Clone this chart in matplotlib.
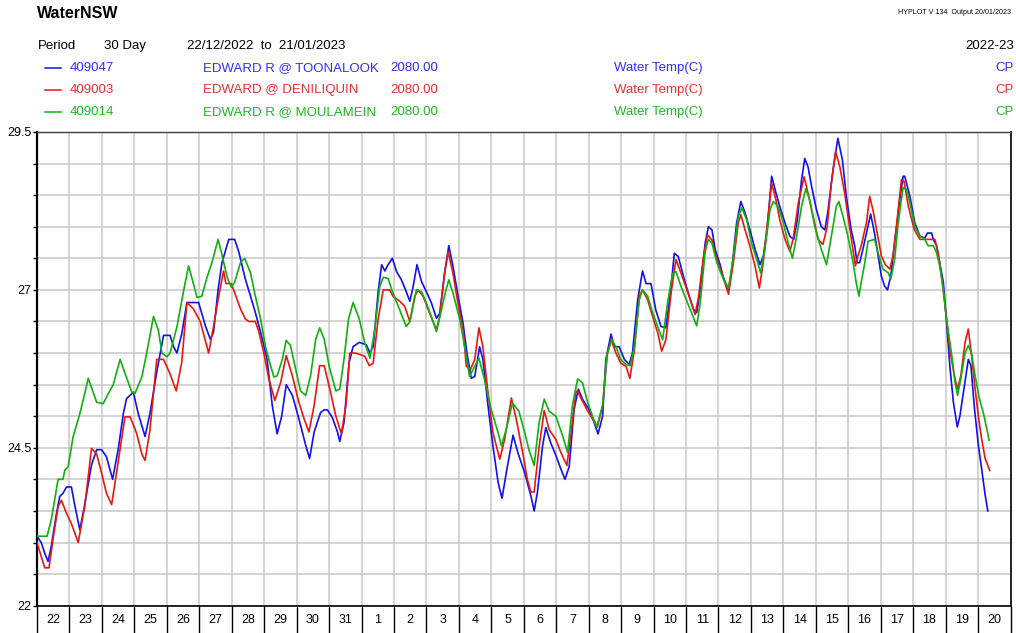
import numpy as np
import matplotlib.pyplot as plt
from matplotlib.ticker import MultipleLocator, FixedLocator, NullFormatter

plt.rcParams['font.family'] = ['Liberation Sans', 'DejaVu Sans']

# days since 22/12/2022 00:00, water temp (C)
blue = [(0, 23.1), (0.13, 23.0), (0.24, 22.83), (0.34, 22.7), (0.44, 22.94), (0.6, 23.46), (0.7, 23.73),
        (0.8, 23.78), (0.91, 23.88), (1.06, 23.88), (1.16, 23.6), (1.32, 23.2), (1.47, 23.6), (1.68, 24.23),
        (1.84, 24.47), (1.99, 24.47), (2.14, 24.36), (2.33, 24.0), (2.51, 24.5), (2.66, 25.04), (2.76, 25.28),
        (2.97, 25.38), (3.12, 25.04), (3.33, 24.68), (3.48, 25.04), (3.69, 25.7), (3.9, 26.28), (4.1, 26.28),
        (4.21, 26.1), (4.31, 26.0), (4.46, 26.3), (4.62, 26.8), (4.98, 26.8), (5.19, 26.43), (5.34, 26.22),
        (5.44, 26.33), (5.58, 27.0), (5.7, 27.43), (5.91, 27.8), (6.09, 27.8), (6.22, 27.6), (6.42, 27.17),
        (6.58, 26.9), (6.73, 26.64), (6.89, 26.33), (7.09, 25.9), (7.25, 25.17), (7.4, 24.72), (7.54, 25.0),
        (7.68, 25.5), (7.87, 25.33), (8.07, 24.96), (8.28, 24.54), (8.4, 24.33), (8.54, 24.75), (8.74, 25.06),
        (8.85, 25.1), (8.95, 25.1), (9.1, 24.98), (9.26, 24.75), (9.33, 24.6), (9.46, 24.9), (9.62, 25.85),
        (9.74, 26.1), (9.93, 26.17), (10.15, 26.13), (10.26, 26.0), (10.36, 26.1), (10.51, 26.95), (10.62, 27.4),
        (10.72, 27.3), (10.82, 27.4), (10.95, 27.5), (11.08, 27.29), (11.23, 27.16), (11.38, 26.97),
        (11.49, 26.82), (11.59, 27.05), (11.71, 27.4), (11.85, 27.13), (12.0, 26.97), (12.15, 26.8),
        (12.31, 26.55), (12.41, 26.63), (12.56, 27.26), (12.69, 27.7), (12.82, 27.37), (12.97, 26.92),
        (13.13, 26.47), (13.25, 26.0), (13.38, 25.6), (13.49, 25.63), (13.64, 26.1), (13.74, 25.9),
        (13.9, 25.16), (14.05, 24.53), (14.21, 23.95), (14.33, 23.7), (14.46, 24.1), (14.67, 24.7),
        (14.82, 24.42), (15.03, 24.1), (15.11, 23.95), (15.22, 23.74), (15.32, 23.5), (15.42, 23.79),
        (15.58, 24.53), (15.68, 24.82), (15.83, 24.58), (15.99, 24.38), (16.14, 24.17), (16.27, 24.0),
        (16.4, 24.2), (16.55, 25.1), (16.68, 25.43), (16.81, 25.27), (17.02, 25.1), (17.17, 24.9),
        (17.29, 24.72), (17.43, 25.0), (17.53, 25.9), (17.69, 26.3), (17.79, 26.1), (17.94, 26.1),
        (18.1, 25.9), (18.25, 25.82), (18.35, 26.0), (18.51, 26.84), (18.66, 27.3), (18.77, 27.1),
        (18.92, 27.1), (19.07, 26.68), (19.23, 26.42), (19.38, 26.4), (19.52, 26.95), (19.64, 27.58),
        (19.76, 27.53), (19.95, 27.16), (20.1, 26.9), (20.23, 26.69), (20.33, 26.64), (20.44, 27.0),
        (20.59, 27.74), (20.69, 28.0), (20.8, 27.95), (20.9, 27.64), (21.05, 27.4), (21.15, 27.2),
        (21.31, 27.0), (21.41, 27.32), (21.56, 28.06), (21.69, 28.4), (21.82, 28.22), (21.97, 27.95),
        (22.13, 27.64), (22.28, 27.4), (22.38, 27.53), (22.5, 27.95), (22.64, 28.8), (22.77, 28.54),
        (22.89, 28.32), (23.05, 28.06), (23.2, 27.85), (23.32, 27.8), (23.43, 28.11), (23.56, 28.74),
        (23.66, 29.08), (23.76, 28.95), (23.87, 28.64), (24.02, 28.27), (24.17, 28.0), (24.28, 27.95),
        (24.38, 28.27), (24.53, 28.9), (24.68, 29.4), (24.82, 29.06), (24.94, 28.48), (25.09, 27.95),
        (25.2, 27.7), (25.27, 27.43), (25.35, 27.43), (25.45, 27.64), (25.56, 27.9), (25.69, 28.2),
        (25.81, 27.9), (25.92, 27.54), (26.02, 27.22), (26.12, 27.06), (26.21, 27.0), (26.31, 27.22),
        (26.43, 27.75), (26.59, 28.43), (26.69, 28.8), (26.74, 28.8), (26.9, 28.48), (27.05, 28.06),
        (27.21, 27.85), (27.36, 27.82), (27.44, 27.9), (27.57, 27.9), (27.62, 27.8), (27.72, 27.7),
        (27.82, 27.43), (27.93, 27.12), (28.03, 26.48), (28.13, 25.8), (28.24, 25.22), (28.36, 24.83),
        (28.44, 25.0), (28.55, 25.38), (28.7, 25.9), (28.78, 25.8), (28.89, 25.12), (29.01, 24.54),
        (29.11, 24.17), (29.22, 23.75), (29.3, 23.5)]

red = [(0, 23.0), (0.13, 22.78), (0.24, 22.6), (0.37, 22.6), (0.49, 23.04), (0.65, 23.57), (0.75, 23.67),
       (0.91, 23.46), (1.06, 23.3), (1.27, 23.0), (1.47, 23.57), (1.68, 24.49), (1.84, 24.4), (1.99, 24.1),
       (2.14, 23.78), (2.3, 23.6), (2.45, 24.1), (2.71, 24.99), (2.87, 24.99), (3.07, 24.73), (3.23, 24.4),
       (3.33, 24.3), (3.48, 24.78), (3.69, 25.9), (3.9, 25.9), (4.1, 25.67), (4.29, 25.4), (4.46, 25.85),
       (4.62, 26.8), (4.82, 26.7), (5.03, 26.5), (5.29, 26.0), (5.44, 26.42), (5.6, 26.9), (5.75, 27.3),
       (5.82, 27.1), (5.99, 27.1), (6.11, 26.93), (6.27, 26.7), (6.42, 26.54), (6.53, 26.5), (6.73, 26.5),
       (6.84, 26.33), (6.99, 26.0), (7.14, 25.6), (7.33, 25.25), (7.51, 25.54), (7.68, 25.96), (7.87, 25.64),
       (8.07, 25.22), (8.23, 24.96), (8.38, 24.75), (8.54, 25.17), (8.71, 25.8), (8.85, 25.8), (9.0, 25.48),
       (9.21, 25.0), (9.38, 24.72), (9.52, 25.17), (9.64, 26.0), (9.82, 26.0), (10.1, 25.95), (10.24, 25.8),
       (10.36, 25.84), (10.51, 26.53), (10.67, 27.0), (10.87, 27.0), (10.97, 26.9), (11.18, 26.82),
       (11.33, 26.74), (11.49, 26.5), (11.64, 26.9), (11.74, 27.0), (11.9, 26.9), (12.1, 26.63),
       (12.31, 26.37), (12.41, 26.58), (12.56, 27.26), (12.67, 27.6), (12.82, 27.26), (12.97, 26.79),
       (13.13, 26.37), (13.23, 25.79), (13.36, 25.74), (13.49, 25.9), (13.62, 26.4), (13.74, 26.1),
       (13.9, 25.37), (14.05, 24.74), (14.26, 24.32), (14.41, 24.63), (14.62, 25.29), (14.77, 24.95),
       (14.97, 24.42), (15.11, 24.0), (15.22, 23.8), (15.32, 23.8), (15.47, 24.5), (15.63, 25.09),
       (15.78, 24.79), (15.99, 24.63), (16.14, 24.43), (16.33, 24.22), (16.45, 24.7), (16.6, 25.37),
       (16.65, 25.4), (16.81, 25.24), (16.96, 25.09), (17.12, 24.96), (17.27, 24.83), (17.43, 25.17),
       (17.58, 26.0), (17.69, 26.21), (17.84, 26.0), (17.99, 25.84), (18.15, 25.79), (18.27, 25.6),
       (18.41, 26.05), (18.56, 26.9), (18.66, 27.0), (18.82, 26.84), (18.97, 26.58), (19.13, 26.32),
       (19.25, 26.03), (19.38, 26.21), (19.54, 26.95), (19.69, 27.48), (19.85, 27.26), (20.05, 26.97),
       (20.13, 26.85), (20.28, 26.61), (20.39, 26.9), (20.54, 27.53), (20.66, 27.87), (20.8, 27.79),
       (20.95, 27.48), (21.1, 27.27), (21.2, 27.11), (21.31, 26.93), (21.46, 27.43), (21.61, 28.06),
       (21.69, 28.19), (21.82, 27.95), (21.97, 27.69), (22.13, 27.37), (22.26, 27.03), (22.38, 27.43),
       (22.54, 28.22), (22.64, 28.69), (22.77, 28.43), (22.89, 28.11), (23.05, 27.8), (23.2, 27.61),
       (23.3, 27.8), (23.46, 28.37), (23.64, 28.79), (23.76, 28.53), (23.92, 28.16), (24.07, 27.8),
       (24.22, 27.72), (24.35, 28.0), (24.48, 28.69), (24.61, 29.19), (24.74, 28.95), (24.89, 28.53),
       (25.04, 28.0), (25.22, 27.38), (25.3, 27.54), (25.4, 27.7), (25.56, 28.06), (25.66, 28.48),
       (25.76, 28.27), (25.87, 27.96), (26.02, 27.54), (26.14, 27.4), (26.28, 27.33), (26.38, 27.54),
       (26.52, 28.17), (26.64, 28.75), (26.72, 28.72), (26.85, 28.33), (27.03, 27.96), (27.21, 27.8),
       (27.41, 27.8), (27.67, 27.8), (27.77, 27.59), (27.9, 27.12), (28.03, 26.54), (28.13, 26.06),
       (28.27, 25.64), (28.37, 25.43), (28.47, 25.64), (28.6, 26.17), (28.7, 26.38), (28.8, 25.96),
       (28.91, 25.43), (29.01, 25.0), (29.11, 24.64), (29.22, 24.33), (29.3, 24.22), (29.36, 24.14)]

green = [(0, 23.1), (0.31, 23.1), (0.44, 23.36), (0.65, 24.0), (0.8, 24.0), (0.86, 24.15), (0.96, 24.2),
         (1.11, 24.67), (1.32, 25.04), (1.42, 25.25), (1.58, 25.6), (1.84, 25.22), (2.04, 25.2), (2.2, 25.36),
         (2.35, 25.5), (2.56, 25.9), (2.92, 25.38), (3.02, 25.36), (3.23, 25.62), (3.38, 26.0), (3.59, 26.58),
         (3.74, 26.36), (3.85, 26.0), (4.0, 25.94), (4.1, 26.0), (4.31, 26.41), (4.52, 26.99), (4.67, 27.38),
         (4.82, 27.1), (4.93, 26.88), (5.08, 26.9), (5.24, 27.2), (5.39, 27.43), (5.58, 27.8), (5.68, 27.6),
         (5.86, 27.2), (5.99, 27.04), (6.09, 27.12), (6.27, 27.43), (6.4, 27.5), (6.58, 27.27), (6.73, 26.9),
         (6.89, 26.54), (7.04, 26.1), (7.2, 25.8), (7.3, 25.62), (7.4, 25.64), (7.56, 25.9), (7.68, 26.2),
         (7.81, 26.12), (7.97, 25.75), (8.12, 25.4), (8.28, 25.33), (8.43, 25.64), (8.59, 26.22), (8.71, 26.4),
         (8.85, 26.22), (9.0, 25.8), (9.21, 25.4), (9.33, 25.43), (9.46, 25.9), (9.6, 26.54), (9.74, 26.8),
         (9.93, 26.54), (10.1, 26.16), (10.26, 25.92), (10.41, 26.37), (10.56, 27.05), (10.67, 27.2),
         (10.82, 27.18), (10.97, 26.95), (11.18, 26.68), (11.38, 26.42), (11.49, 26.5), (11.69, 27.0),
         (11.85, 26.97), (12.0, 26.79), (12.15, 26.58), (12.31, 26.34), (12.46, 26.68), (12.59, 26.97),
         (12.69, 27.16), (12.82, 26.95), (13.03, 26.53), (13.18, 26.1), (13.33, 25.63), (13.49, 25.79),
         (13.62, 25.92), (13.79, 25.58), (14.0, 25.1), (14.21, 24.74), (14.31, 24.53), (14.46, 24.79),
         (14.65, 25.21), (14.85, 25.08), (15.03, 24.74), (15.16, 24.47), (15.32, 24.22), (15.47, 24.89),
         (15.63, 25.27), (15.78, 25.08), (15.99, 25.0), (16.19, 24.7), (16.35, 24.43), (16.5, 25.17),
         (16.66, 25.59), (16.81, 25.53), (16.97, 25.22), (17.12, 25.0), (17.25, 24.83), (17.43, 25.17),
         (17.56, 25.96), (17.71, 26.21), (17.84, 26.1), (17.99, 25.9), (18.15, 25.82), (18.28, 25.8),
         (18.41, 26.1), (18.56, 26.84), (18.66, 27.0), (18.82, 26.9), (18.97, 26.64), (19.13, 26.42),
         (19.28, 26.21), (19.43, 26.79), (19.59, 27.26), (19.69, 27.29), (19.85, 27.05), (20.05, 26.79),
         (20.23, 26.56), (20.33, 26.43), (20.44, 26.8), (20.59, 27.6), (20.69, 27.8), (20.8, 27.74),
         (20.95, 27.43), (21.15, 27.17), (21.31, 27.03), (21.46, 27.53), (21.61, 28.16), (21.72, 28.3),
         (21.87, 28.11), (22.02, 27.74), (22.18, 27.48), (22.3, 27.27), (22.43, 27.64), (22.59, 28.27),
         (22.69, 28.4), (22.84, 28.32), (23.0, 28.06), (23.15, 27.74), (23.28, 27.5), (23.41, 27.85),
         (23.56, 28.32), (23.69, 28.6), (23.81, 28.43), (23.97, 28.0), (24.17, 27.64), (24.33, 27.4),
         (24.48, 27.85), (24.63, 28.32), (24.71, 28.4), (24.84, 28.16), (24.99, 27.85), (25.15, 27.43),
         (25.25, 27.1), (25.33, 26.9), (25.4, 27.12), (25.51, 27.43), (25.61, 27.77), (25.81, 27.8),
         (25.92, 27.59), (26.07, 27.33), (26.23, 27.27), (26.31, 27.17), (26.43, 27.48), (26.54, 28.06),
         (26.69, 28.62), (26.79, 28.59), (26.9, 28.38), (27.05, 28.0), (27.21, 27.85), (27.36, 27.8),
         (27.46, 27.7), (27.62, 27.7), (27.72, 27.59), (27.82, 27.38), (27.93, 27.0), (28.03, 26.54),
         (28.19, 25.96), (28.29, 25.54), (28.37, 25.33), (28.47, 25.6), (28.6, 26.0), (28.7, 26.12),
         (28.8, 26.0), (28.91, 25.64), (29.03, 25.3), (29.16, 25.06), (29.27, 24.8), (29.34, 24.62)]

day_labels = [22, 23, 24, 25, 26, 27, 28, 29, 30, 31, 1, 2, 3, 4, 5, 6, 7, 8, 9, 10,
              11, 12, 13, 14, 15, 16, 17, 18, 19, 20]
y_labels = [22, 24.5, 27, 29.5]

sites = ['409047', '409003', '409014']
names = ['EDWARD R @ TOONALOOK', 'EDWARD @ DENILIQUIN', 'EDWARD R @ MOULAMEIN']
series = [blue, red, green]
line_cols = ['#1010f0', '#e81810', '#10b010']
text_cols = ['#3030f0', '#e83030', '#20b820']

W, H = 1016, 633
fig = plt.figure(figsize=(W / 100, H / 100), dpi=100)
ax = fig.add_axes([37 / W, (H - 605.7) / H, (1010.5 - 37) / W, (605.7 - 132) / H])

for data, c in zip(series, line_cols):
    t = [p[0] for p in data]
    v = [p[1] for p in data]
    ax.plot(t, v, color=c, lw=1.2, zorder=3)

ax.set_xlim(0, 30)
ax.set_ylim(22, 29.5)

# x axis: day boundaries as long ticks, labels in the middle of each day
ax.xaxis.set_major_locator(MultipleLocator(1))
ax.xaxis.set_major_formatter(NullFormatter())
ax.set_xticks(np.arange(len(day_labels)) + 0.5, minor=True)
ax.set_xticklabels([str(d) for d in day_labels], minor=True)
ax.tick_params(axis='x', which='major', direction='out', length=20, width=1.0, color='black')
ax.tick_params(axis='x', which='minor', length=0, pad=6, labelsize=9)

ax.yaxis.set_major_locator(FixedLocator(y_labels))
ax.yaxis.set_minor_locator(MultipleLocator(0.5))
ax.set_yticklabels([f'{y:g}' for y in y_labels])
ax.tick_params(axis='y', which='both', direction='out', length=3, width=1.0, pad=1, labelsize=9)

ax.grid(True, which='major', axis='x', color='#c8c8c8', lw=1.1, zorder=0)
ax.grid(True, which='both', axis='y', color='#c8c8c8', lw=1.1, zorder=0)
ax.set_axisbelow(True)

for s in ['left', 'right', 'bottom']:
    ax.spines[s].set_color('black')
    ax.spines[s].set_linewidth(1.2)
ax.spines['left'].set_linewidth(1.6)
ax.spines['top'].set_color('#404040')
ax.spines['top'].set_linewidth(1.0)


def px(x, y):
    return x / W, 1 - y / H


fs = 9.5
fig.text(*px(37, 14), 'WaterNSW', fontsize=11.5, fontweight='bold', va='center')
fig.text(*px(1011, 12), 'HYPLOT V 134  Output 20/01/2023', fontsize=5.1, va='center', ha='right')
fig.text(*px(38, 46), 'Period', fontsize=fs, va='center')
fig.text(*px(104, 46), '30 Day', fontsize=fs, va='center')
fig.text(*px(187, 46), '22/12/2022  to  21/01/2023', fontsize=fs, va='center')
fig.text(*px(1014, 46), '2022-23', fontsize=fs, va='center', ha='right')

for i, (code, name, lc, tc) in enumerate(zip(sites, names, line_cols, text_cols)):
    y = 68 + 22 * i
    fig.add_artist(plt.Line2D([45 / W, 61 / W], [1 - y / H, 1 - y / H], color=lc, lw=1.1))
    fig.text(*px(70, y), code, color=tc, fontsize=fs, va='center')
    fig.text(*px(203, y), name, color=tc, fontsize=fs, va='center')
    fig.text(*px(390, y), '2080.00', color=tc, fontsize=fs, va='center')
    fig.text(*px(614, y), 'Water Temp(C)', color=tc, fontsize=fs, va='center')
    fig.text(*px(1014, y), 'CP', color=tc, fontsize=fs, va='center', ha='right')

fig.savefig('out.png', dpi=100)
